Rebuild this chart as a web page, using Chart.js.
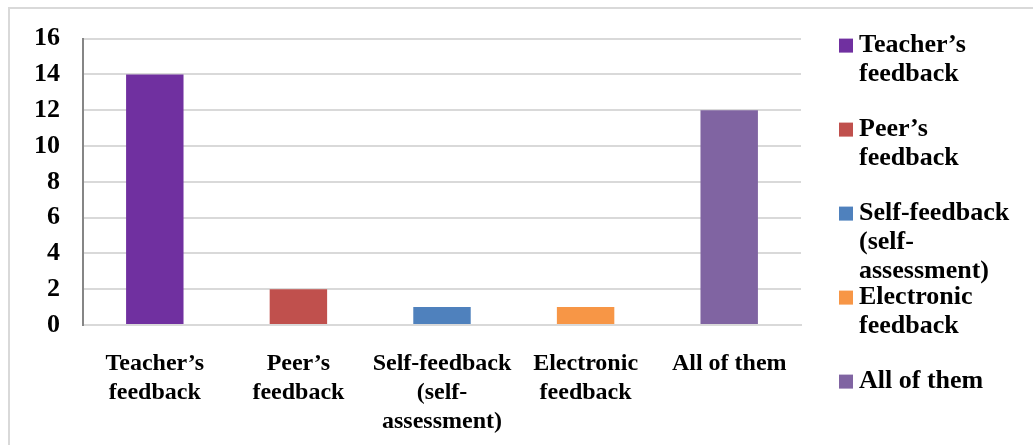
<!DOCTYPE html>
<html>
<head>
<meta charset="utf-8">
<title>Feedback preferences</title>
<script src="https://cdn.jsdelivr.net/npm/chart.js@4/dist/chart.umd.min.js"></script>
<style>
  html, body { margin: 0; padding: 0; background: #fff; }
  #wrap { width: 1033px; height: 445px; position: relative; }
</style>
</head>
<body>
<div id="wrap"><canvas id="feedbackChart"></canvas></div>
<script>
// Number of responses per feedback type
const categories = [
  ["Teacher’s", "feedback"],
  ["Peer’s", "feedback"],
  ["Self-feedback", "(self-", "assessment)"],
  ["Electronic", "feedback"],
  ["All of them"]
];
const counts = [14, 2, 1, 1, 12];
const barColors = ["#7030A0", "#C0504D", "#4F81BD", "#F79646", "#8064A2"];
const yTicks = [0, 2, 4, 6, 8, 10, 12, 14, 16];

const serif = '"Liberation Serif", "Times New Roman", serif';

document.addEventListener("DOMContentLoaded", function () {
  const ctx = document.getElementById("feedbackChart");

  // frame around the whole figure
  const framePlugin = {
    id: "frame",
    beforeDraw(chart) {
      const c = chart.ctx;
      c.save();
      c.strokeStyle = "#d9d9d9";
      c.lineWidth = 2;
      c.beginPath();
      c.moveTo(9, chart.height + 5);
      c.lineTo(9, 8);
      c.lineTo(chart.width + 5, 8);
      c.stroke();
      c.restore();
    }
  };

  // legend on the right with wrapped labels, one entry per bar
  const sideLegend = {
    id: "sideLegend",
    afterDraw(chart) {
      const c = chart.ctx;
      const area = chart.chartArea;
      const x0 = area.right + 38;
      let y = area.top + 7;
      c.save();
      c.font = "bold 26px " + serif;
      c.textBaseline = "middle";
      c.textAlign = "left";
      categories.forEach(function (lines, i) {
        c.fillStyle = barColors[i];
        c.fillRect(x0, y - 7, 14, 14);
        c.fillStyle = "#000";
        lines.forEach(function (line, j) {
          c.fillText(line, x0 + 20, y + j * 29);
        });
        y += 84;
      });
      c.restore();
    }
  };

  new Chart(ctx, {
    type: "bar",
    data: {
      labels: categories,
      datasets: [
        {
          label: "Responses",
          data: counts,
          backgroundColor: barColors,
          barPercentage: 0.4,
          categoryPercentage: 1
        }
      ]
    },
    options: {
      responsive: true,
      maintainAspectRatio: false,
      animation: false,
      layout: {
        padding: { left: 0, top: 37, right: 232, bottom: 0 }
      },
      plugins: {
        legend: { display: false },
        tooltip: { enabled: false }
      },
      scales: {
        x: {
          grid: { display: false },
          border: { display: true, color: "#d9d9d9", width: 2 },
          ticks: {
            color: "#000",
            padding: 17,
            maxRotation: 0,
            autoSkip: false,
            font: { family: serif, size: 24, weight: "bold", lineHeight: 1.19 }
          },
          afterFit(scale) { scale.height = 120; }
        },
        y: {
          min: 0,
          max: 16,
          afterBuildTicks(scale) {
            scale.ticks = yTicks.map(function (v) { return { value: v }; });
          },
          grid: { color: "#d9d9d9", lineWidth: 2, drawTicks: false },
          border: { display: true, color: "#868686", width: 2 },
          ticks: {
            color: "#000",
            padding: 23,
            font: { family: serif, size: 26, weight: "bold" }
          },
          afterFit(scale) { scale.width = 83; }
        }
      }
    },
    plugins: [framePlugin, sideLegend]
  });
});
</script>
</body>
</html>
